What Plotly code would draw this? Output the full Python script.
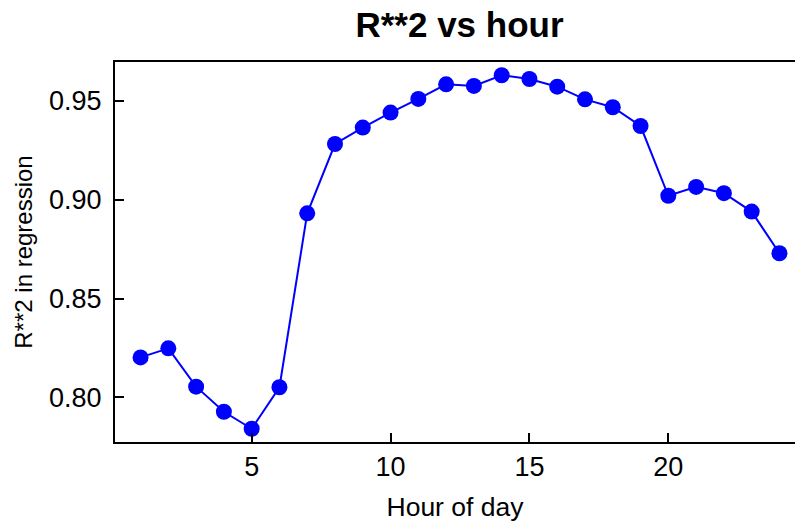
import plotly.graph_objects as go

hours = list(range(1, 25))
r2 = [0.8202, 0.8248, 0.8054, 0.7927, 0.7841, 0.8051, 0.8931, 0.9282,
      0.9365, 0.9441, 0.9510, 0.9584, 0.9576, 0.9630, 0.9611, 0.9572,
      0.9508, 0.9468, 0.9373, 0.9020, 0.9065, 0.9033, 0.8940, 0.8729]
x_ticks = [5, 10, 15, 20]
y_ticks = [0.80, 0.85, 0.90, 0.95]
title = "R**2 vs hour"
x_title = "Hour of day"
y_title = "R**2 in regression"

FONT = "Liberation Sans, Arial, Helvetica, sans-serif"

fig = go.Figure(go.Scatter(
    x=hours, y=r2, mode="lines+markers",
    line=dict(color="#0000FF", width=2),
    marker=dict(color="#0000FF", size=16),
))

fig.update_layout(
    width=795, height=531,
    margin=dict(l=115, r=0, t=62, b=89),
    paper_bgcolor="white", plot_bgcolor="white",
    showlegend=False,
    font=dict(family=FONT, color="black"),
    title=dict(text="<b>" + title + "</b>", x=0.578, xanchor="center",
               y=0.953, yanchor="middle", yref="container",
               font=dict(size=35, family=FONT, color="black")),
)
fig.update_xaxes(
    range=[0.08, 24.56], tickvals=x_ticks, ticks="inside", ticklen=9,
    tickwidth=1.5, tickcolor="black", showline=True, linecolor="black",
    linewidth=2, mirror=True, showgrid=False, zeroline=False,
    tickfont=dict(size=27, family=FONT),
    title=dict(text=x_title, font=dict(size=26.5, family=FONT), standoff=16),
)
fig.update_yaxes(
    range=[0.7774, 0.9697], tickvals=y_ticks, tickformat=".2f",
    ticks="inside", ticklen=9, tickwidth=1.5, tickcolor="black",
    showline=True, linecolor="black", linewidth=2, showgrid=False,
    zeroline=False, tickfont=dict(size=27, family=FONT),
    ticklabelstandoff=6,
    title=dict(text=y_title, font=dict(size=24, family=FONT), standoff=10),
)

fig.write_html("out.html")
